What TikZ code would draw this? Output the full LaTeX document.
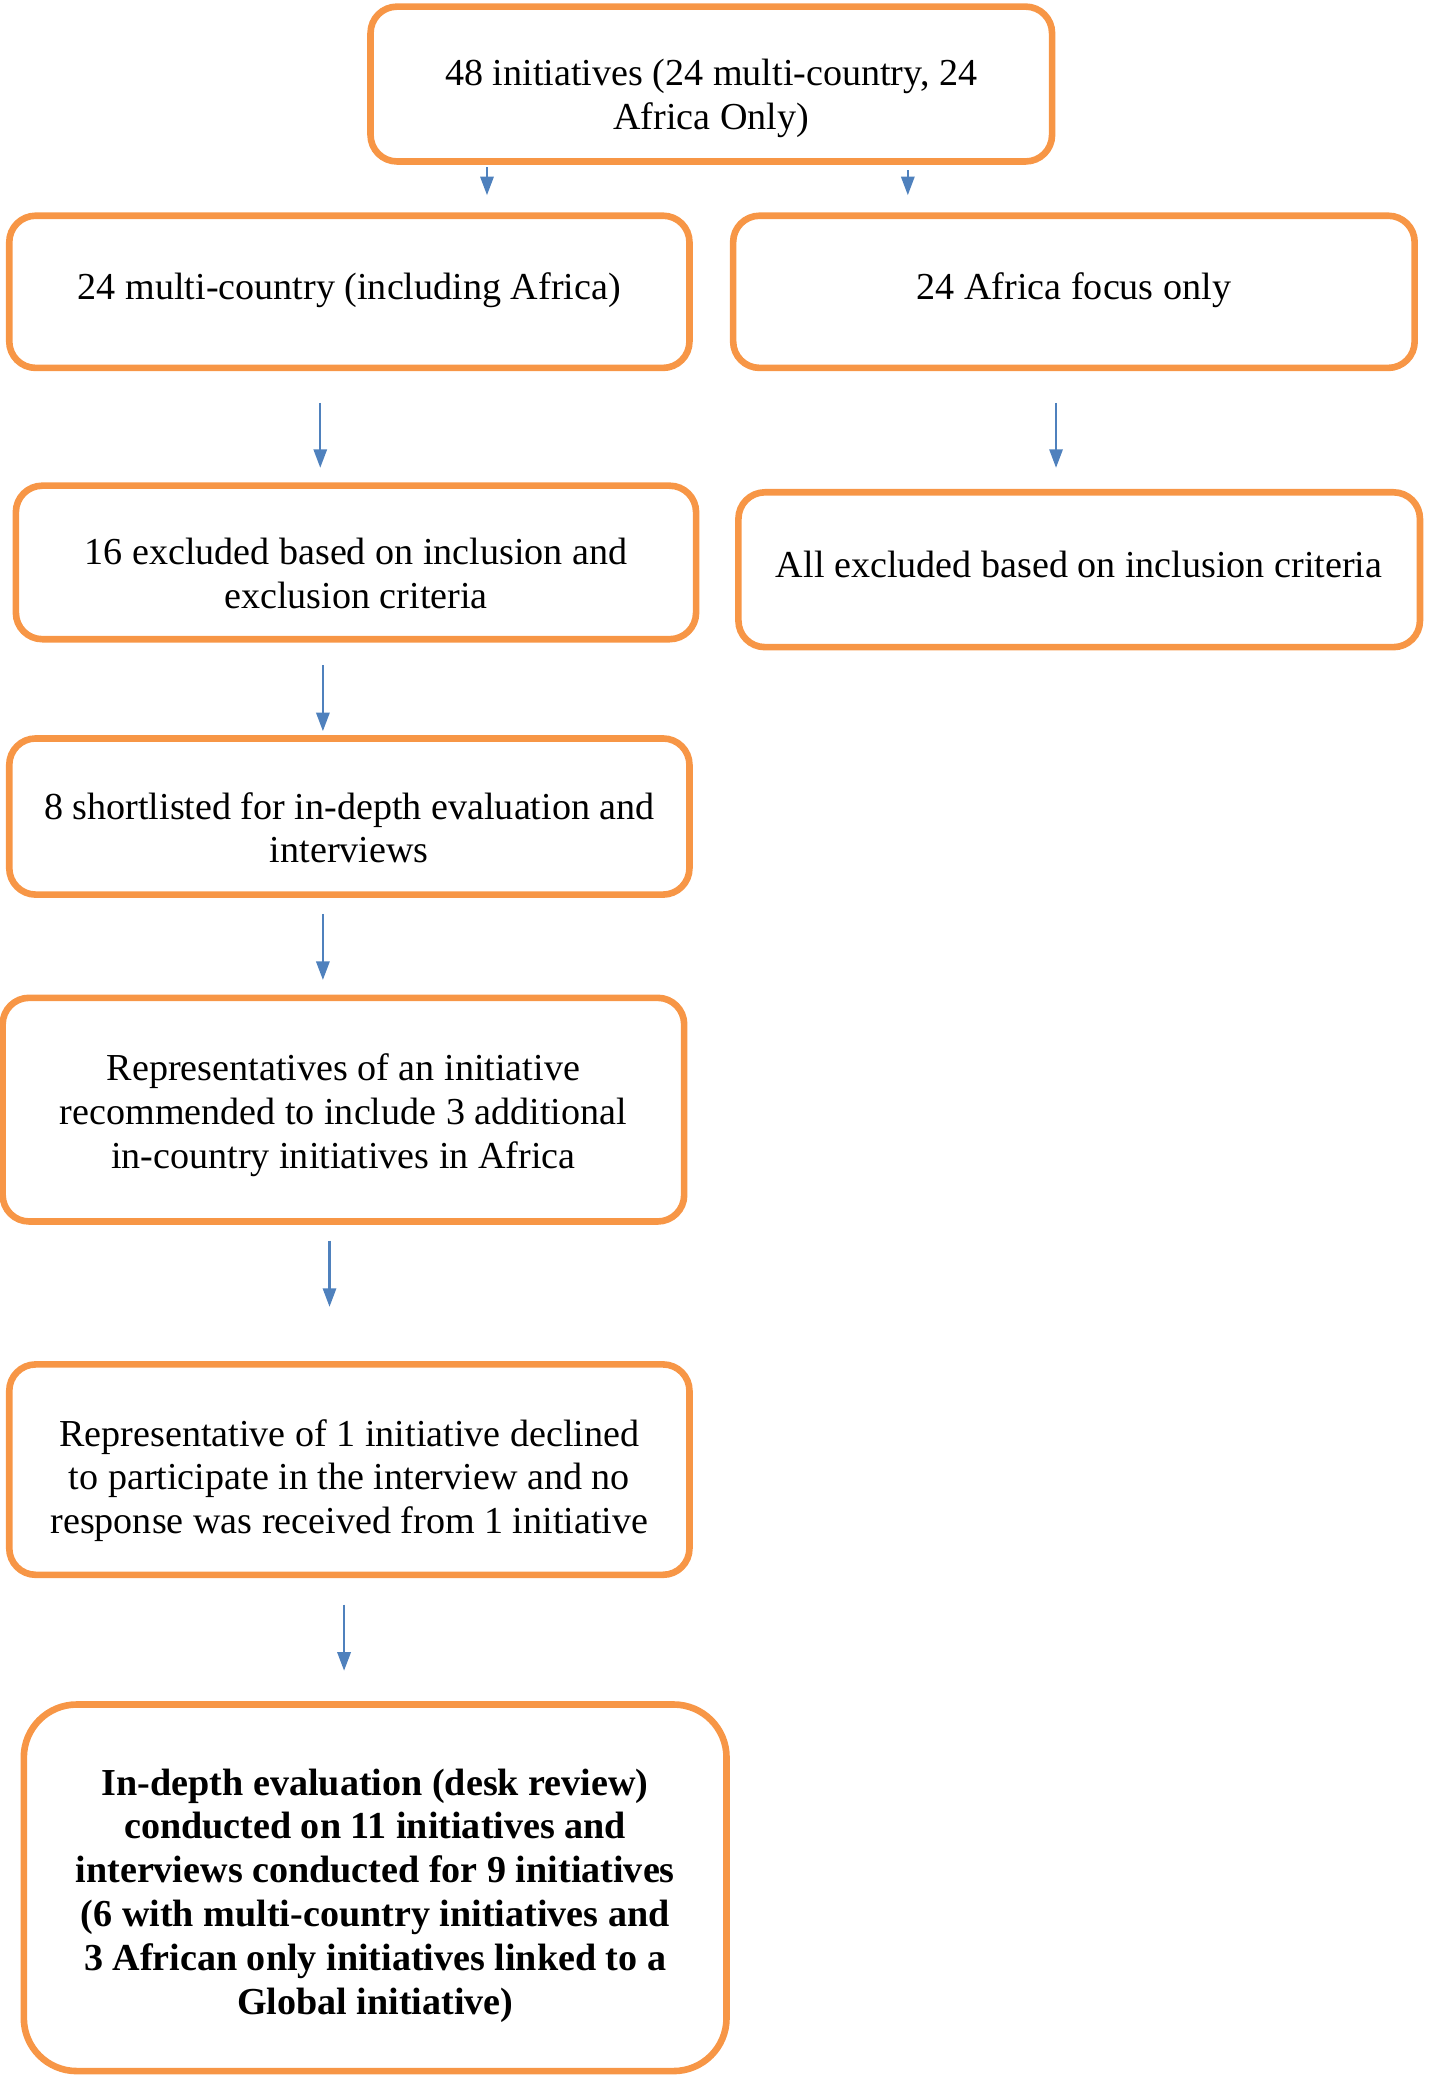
\documentclass[tikz,border=0pt]{standalone}
\usepackage{fontspec}
\setmainfont{Liberation Serif}
\usepackage{tikz}
\usetikzlibrary{positioning,arrows.meta}

\definecolor{boxorange}{HTML}{F79646}
\definecolor{arrowblue}{HTML}{4F81BD}

\begin{document}
\begin{tikzpicture}[%
            x=1pt,y=1pt,
            font=\fontsize{14.4}{16.55}\selectfont,
            stage/.style={%
            	rectangle,
            	rounded corners=10pt,
            	draw=boxorange,
            	line width=2.5pt,
            	align=center,
            	inner sep=0pt
            },
            finalstage/.style={%
            	stage,
            	rounded corners=20pt,
            	font=\fontsize{14.4}{16.55}\selectfont\bfseries
            },
            arr/.style={%
            	draw=arrowblue,
            	line width=0.9pt,
            	-{Triangle[width=5pt,length=7pt]}
            }
            ]
            \useasboundingbox (0,0) rectangle (540,-785.5);

            \node[stage, minimum width=257.5pt, text height=46.5pt, text depth=12pt] (all) at (268.75,-31.75)
                {48 initiatives (24 multi-country, 24\\Africa Only)};
            \node[stage, minimum width=257pt, text height=31.5pt, text depth=26pt] (multi) at (132,-110.25)
                {24 multi-country (including Africa)};
            \node[stage, minimum width=257.5pt, text height=31.5pt, text depth=26pt] (africa) at (405.75,-110.25)
                {24 Africa focus only};
            \node[stage, minimum width=257pt, text height=46.5pt, text depth=11.5pt] (exmulti) at (134.5,-212.5)
                {16 excluded based on inclusion and\\exclusion criteria};
            \node[stage, minimum width=257.5pt, text height=32pt, text depth=26.5pt] (exafrica) at (407.75,-215.25)
                {All excluded based on inclusion criteria};
            \node[stage, minimum width=257pt, text height=47pt, text depth=12pt] (short) at (132,-308.5)
                {8 shortlisted for in-depth evaluation and\\interviews};
            \node[stage, minimum width=257.5pt, text height=64.5pt, text depth=20pt] (recom) at (129.75,-419.25)
                {Representatives of an initiative\\recommended to include 3 additional\\in-country initiatives in Africa};
            \node[stage, minimum width=257pt, text height=64pt, text depth=15.5pt] (declined) at (132,-555.25)
                {Representative of 1 initiative declined\\to participate in the interview and no\\response was received from 1 initiative};
            \node[finalstage, minimum width=265.5pt, text height=117pt, text depth=21.5pt] (final) at (141.75,-713.25)
                {In-depth evaluation (desk review)\\conducted on 11 initiatives and\\interviews conducted for 9 initiatives\\(6 with multi-country initiatives and\\3 African only initiatives linked to a\\Global initiative)};

            % connectors
            \draw[arr, shorten <=1pt, shorten >=6.5pt] ([xshift=-84.75pt]all.south) -- ([xshift=52pt]multi.north);
            \draw[arr, shorten <=2pt, shorten >=6.5pt] ([xshift=74.25pt]all.south) -- ([xshift=-62.75pt]africa.north);
            \draw[arr, shorten <=12pt, shorten >=5.5pt] ([xshift=-11pt]multi.south) -- ([xshift=-13.5pt]exmulti.north);
            \draw[arr, shorten <=12pt, shorten >=8pt] ([xshift=-6.75pt]africa.south) -- ([xshift=-8.75pt]exafrica.north);
            \draw[arr, shorten <=8.5pt, shorten >=1.5pt] ([xshift=-12.5pt]exmulti.south) -- ([xshift=-10pt]short.north);
            \draw[arr, shorten <=6pt, shorten >=5.5pt] ([xshift=-10pt]short.south) -- ([xshift=-7.75pt]recom.north);
            \draw[arr, shorten <=6pt, shorten >=20.5pt] ([xshift=-5.25pt]recom.south) -- ([xshift=-7.5pt]declined.north);
            \draw[arr, shorten <=10pt, shorten >=11.5pt] ([xshift=-2pt]declined.south) -- ([xshift=-11.75pt]final.north);
\end{tikzpicture}
\end{document}
